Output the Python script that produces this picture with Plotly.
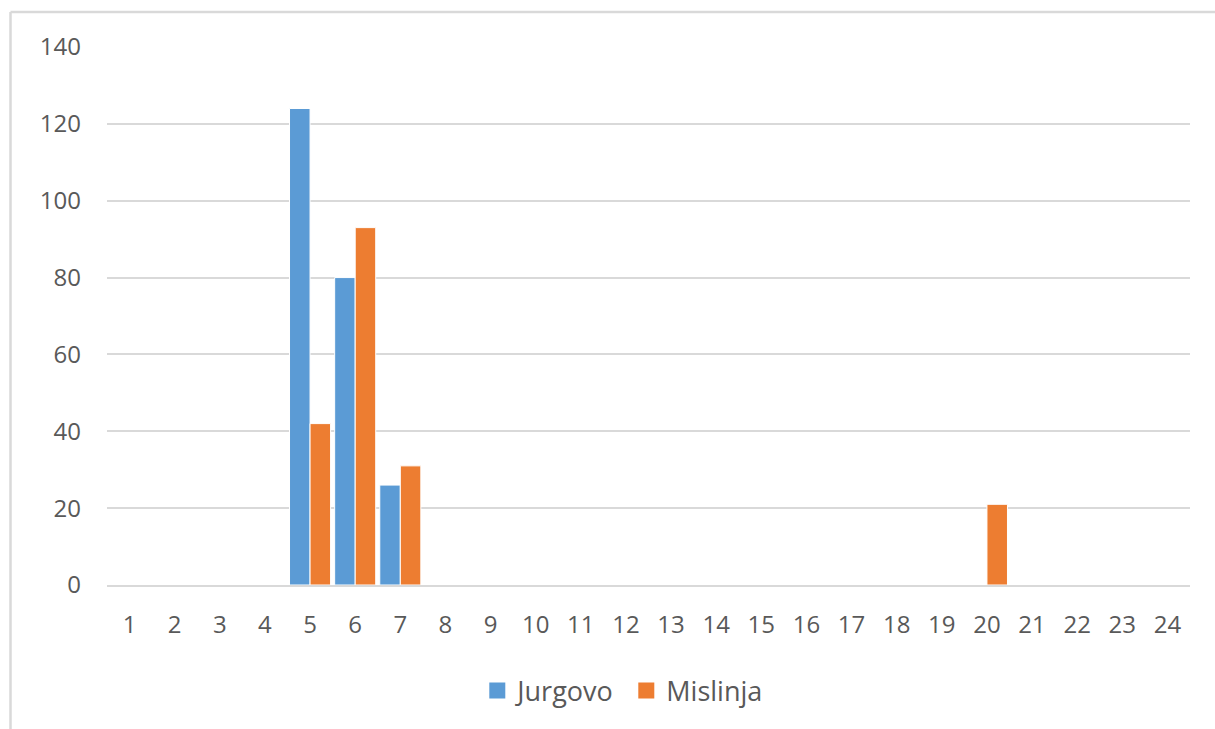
import plotly.graph_objects as go

# Categories 1..24 and counts per site
categories = [str(i) for i in range(1, 25)]
jurgovo = [0, 0, 0, 0, 124, 80, 26, 0, 0, 0, 0, 0, 0, 0, 0, 0, 0, 0, 0, 0, 0, 0, 0, 0]
mislinja = [0, 0, 0, 0, 42, 93, 31, 0, 0, 0, 0, 0, 0, 0, 0, 0, 0, 0, 0, 21, 0, 0, 0, 0]
series_names = ["Jurgovo", "Mislinja"]
series_colors = ["#5B9BD5", "#ED7D31"]

text_color = "#595959"
grid_color = "#D9D9D9"
font_family = "Open Sans, Noto Sans, DejaVu Sans, sans-serif"

fig = go.Figure()
for name, vals, col in zip(series_names, [jurgovo, mislinja], series_colors):
    fig.add_trace(go.Bar(
        x=categories, y=vals, name=name, legendgroup=name, showlegend=False,
        marker=dict(color=col, line=dict(color="white", width=1)),
    ))
# Legend keys: larger square swatches
for name, col in zip(series_names, series_colors):
    fig.add_trace(go.Scatter(
        x=[None], y=[None], name=name, legendgroup=name, mode="markers",
        marker=dict(symbol="square", size=16, color=col),
    ))

# Chart-area frame (left and top edges)
fig.add_shape(type="line", xref="paper", yref="paper",
              x0=-0.0891, x1=-0.0891, y0=1.065, y1=-0.30,
              line=dict(color=grid_color, width=2.5))
fig.add_shape(type="line", xref="paper", yref="paper",
              x0=-0.0891, x1=1.05, y0=1.065, y1=1.065,
              line=dict(color=grid_color, width=2.5))

fig.update_layout(
    width=1215, height=729,
    margin=dict(l=107, r=25, t=47, b=144),
    paper_bgcolor="white", plot_bgcolor="white",
    barmode="group", bargap=0.09, bargroupgap=0.0,
    font=dict(family=font_family, size=24, color=text_color),
    showlegend=True,
    legend=dict(orientation="h", x=0.4795, xanchor="center",
                y=-0.197, yanchor="middle",
                font=dict(size=27, color=text_color),
                itemwidth=30, tracegroupgap=0, entrywidth=104),
)
fig.update_xaxes(
    type="category", showgrid=False, zeroline=False,
    showline=True, linecolor=grid_color, linewidth=2,
    ticks="", ticklabelstandoff=17, layer="above traces",
    tickfont=dict(size=24, color=text_color),
)
fig.update_yaxes(
    range=[0, 140], dtick=20, tick0=0,
    showgrid=True, gridcolor=grid_color, gridwidth=2,
    zeroline=False, showline=False, ticks="",
    ticklabelstandoff=25,
    tickfont=dict(size=24, color=text_color),
)

fig.write_html("out.html")
